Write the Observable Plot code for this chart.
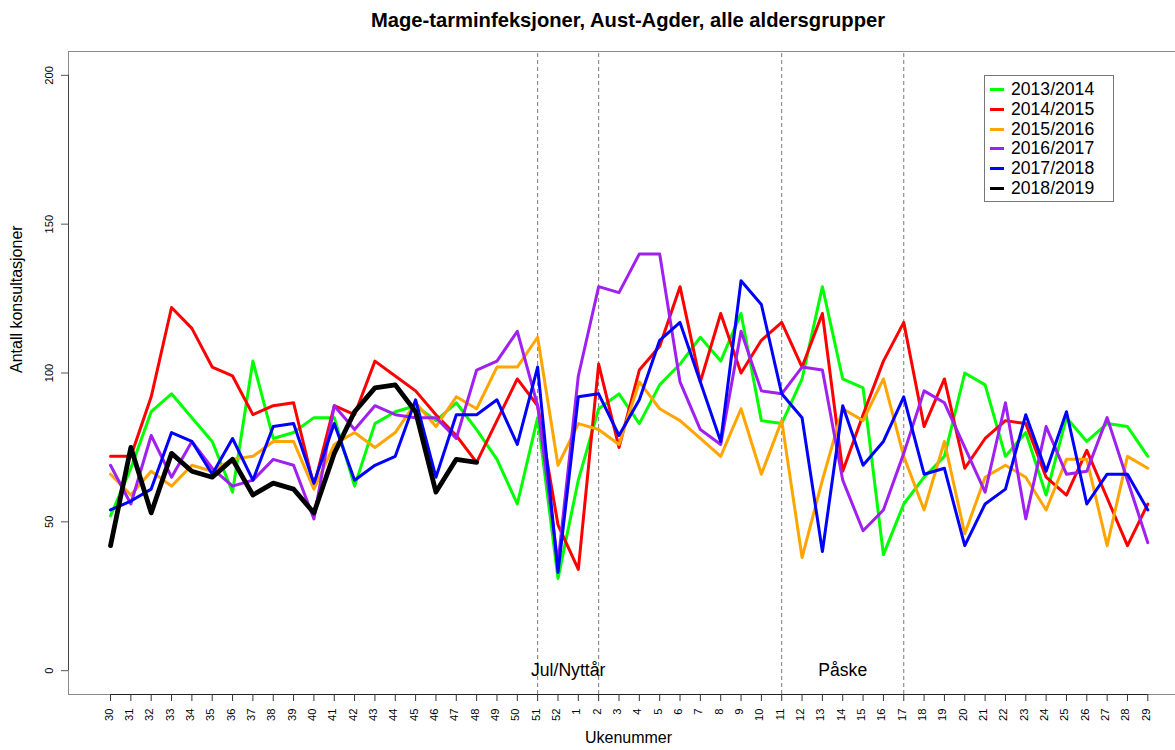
<!DOCTYPE html>
<html><head><meta charset="utf-8">
<script src="https://cdn.jsdelivr.net/npm/d3@7"></script>
<script src="https://cdn.jsdelivr.net/npm/@observablehq/plot@0.6"></script>
<style>
body{margin:0;background:#fff;font-family:"Liberation Sans",Arial,Helvetica,sans-serif;}
#wrap{position:relative;width:1175px;height:750px;overflow:hidden;background:#fff;}
#title{position:absolute;left:0;width:1256px;top:9px;text-align:center;font-weight:bold;font-size:20.2px;line-height:22px;color:#000;}
#legend{position:absolute;left:984px;top:75px;width:130px;height:127px;border:1px solid #777;background:#fff;box-sizing:border-box;padding-top:4px;}
.row{height:19.7px;display:flex;align-items:center;font-size:17.6px;color:#000;}
.sw{display:inline-block;width:14px;height:3px;margin-left:5px;margin-right:7px;}
#chart{position:absolute;left:0;top:0;}
</style>
</head><body>
<div id="wrap">
  <div id="chart"></div>
  <div id="title"></div>
  <div id="legend"></div>
</div>
<script>
// ---- data ----
const weeks = [30,31,32,33,34,35,36,37,38,39,40,41,42,43,44,45,46,47,48,49,50,51,52,1,2,3,4,5,6,7,8,9,10,11,12,13,14,15,16,17,18,19,20,21,22,23,24,25,26,27,28,29];
const seasons = ["2013/2014","2014/2015","2015/2016","2016/2017","2017/2018","2018/2019"];
const seasonColors = ["#00ff00","#ff0000","#ffa500","#a020f0","#0000ff","#000000"];
const s2013 = [52,68,87,93,85,77,60,104,78,80,85,85,62,83,87,89,84,90,81,71,56,85,31,64,88,93,83,96,103,112,104,120,84,83,98,129,98,95,39,56,65,72,100,96,72,80,59,85,77,83,82,72];
const s2014 = [72,72,92,122,115,102,99,86,89,90,62,89,86,104,99,94,86,79,70,84,98,89,49,34,103,75,101,109,129,97,120,100,111,117,102,120,67,86,104,117,82,98,68,78,84,83,65,59,74,58,42,56];
const s2015 = [66,59,67,62,69,67,71,72,77,77,61,76,80,75,80,90,82,92,88,102,102,112,69,83,81,76,97,88,84,78,72,88,66,84,38,64,88,84,98,72,54,77,46,65,69,65,54,71,71,42,72,68];
const s2016 = [69,56,79,65,77,68,62,64,71,69,51,89,81,89,86,85,85,78,101,104,114,89,36,99,129,127,140,140,97,81,76,114,94,93,102,101,64,47,54,73,94,90,75,60,90,51,82,66,67,85,64,43];
const s2017 = [54,57,61,80,77,66,78,64,82,83,63,83,64,69,72,91,65,86,86,91,76,102,33,92,93,79,91,111,117,97,77,131,123,93,85,40,89,69,77,92,66,68,42,56,61,86,67,87,56,66,66,54];
const s2018 = [42,75,53,73,67,65,71,59,63,61,53,73,87,95,96,87,60,71,70];
const yTicks = [0,50,100,150,200];
const holidayWeeks = [51,2,11,17];
const periodLabels = [{text:"Jul/Nyttår", from:51, to:2},{text:"Påske", from:11, to:17}];
const titleText = "Mage-tarminfeksjoner, Aust-Agder, alle aldersgrupper";
const xTitle = "Ukenummer";
const yTitle = "Antall konsultasjoner";

// ---- build table ----
const allSeries = [s2013,s2014,s2015,s2016,s2017,s2018];
const rows = seasons.flatMap((s,k)=> allSeries[k].map((v,i)=>({season:s,i,v,week:weeks[i]})));
const idx = weeks.map((w,i)=>i);
const holidayIdx = holidayWeeks.map(w=>weeks.indexOf(w));
const periods = periodLabels.map(p=>({text:p.text, i:(weeks.indexOf(p.from)+weeks.indexOf(p.to))/2, v:0}));

const xDom = [-2.066, 53.0];
const yDom = [-8, 208];
const font = "Liberation Sans, Arial, Helvetica, sans-serif";

const chart = Plot.plot({
  width: 1175, height: 750,
  marginLeft: 68, marginRight: 0, marginTop: 51, marginBottom: 56,
  style: {fontFamily: font, background: "transparent", color: "#000"},
  x: {domain: xDom, range: [68, 1188], axis: null},
  y: {domain: yDom, range: [694, 51], axis: null},
  color: {domain: seasons, range: seasonColors},
  marks: [
    // box (left, top, bottom)
    Plot.ruleY([yDom[1]], {stroke: "#8a8a8a", strokeWidth: 1}),
    Plot.ruleY([yDom[0]], {stroke: "#8a8a8a", strokeWidth: 1}),
    Plot.ruleX([xDom[0]], {y1: yDom[0], y2: yDom[1], stroke: "#8a8a8a", strokeWidth: 1}),
    // holiday dashed lines
    Plot.ruleX(holidayIdx, {y1: yDom[0], y2: yDom[1], stroke: "#7a7a7a", strokeWidth: 1, strokeDasharray: "4,3"}),
    // axis lines
    Plot.ruleY([yDom[0]], {x1: idx[0], x2: idx[idx.length-1], stroke: "#222", strokeWidth: 1}),
    Plot.ruleX([xDom[0]], {y1: yTicks[0], y2: yTicks[yTicks.length-1], stroke: "#444", strokeWidth: 1}),
    // ticks
    Plot.axisX({ticks: idx, tickSize: 7, tickFormat: () => "", label: null, stroke: "#333"}),
    Plot.axisY({ticks: yTicks, tickSize: 7, tickFormat: () => "", label: null, stroke: "#555"}),
    // tick labels
    Plot.text(idx, {x: d => d, text: d => String(weeks[d]), frameAnchor: "bottom", dy: 14, dx: 2, rotate: -90, textAnchor: "end", fontSize: 11.2, fill: "#000"}),
    Plot.text(yTicks, {y: d => d, text: d => String(d), frameAnchor: "left", dx: -19, rotate: -90, textAnchor: "middle", fontSize: 11.2, fill: "#000"}),
    // axis titles
    Plot.text([xTitle], {x: (xDom[0]+xDom[1])/2, frameAnchor: "bottom", dy: 48, text: d => d, fontSize: 16, fill: "#000"}),
    Plot.text([yTitle], {y: (yDom[0]+yDom[1])/2, frameAnchor: "left", dx: -52, rotate: -90, text: d => d, fontSize: 16, fill: "#000"}),
    // period labels
    Plot.text(periods, {x: "i", y: "v", text: "text", fontSize: 17.6, fill: "#000"}),
    // lines
    Plot.line(rows.filter(d => d.season !== seasons[5]), {x: "i", y: "v", z: "season", stroke: "season", strokeWidth: 3, strokeLinejoin: "round", strokeLinecap: "round"}),
    Plot.line(rows.filter(d => d.season === seasons[5]), {x: "i", y: "v", z: "season", stroke: "season", strokeWidth: 4.8, strokeLinejoin: "round", strokeLinecap: "round"})
  ]
});
document.getElementById("chart").appendChild(chart);
document.getElementById("title").textContent = titleText;
const lg = document.getElementById("legend");
seasons.forEach((s,k)=>{
  const r = document.createElement("div"); r.className = "row";
  const sw = document.createElement("span"); sw.className = "sw"; sw.style.background = seasonColors[k];
  const t = document.createElement("span"); t.textContent = s;
  r.appendChild(sw); r.appendChild(t); lg.appendChild(r);
});
</script>
</body></html>
